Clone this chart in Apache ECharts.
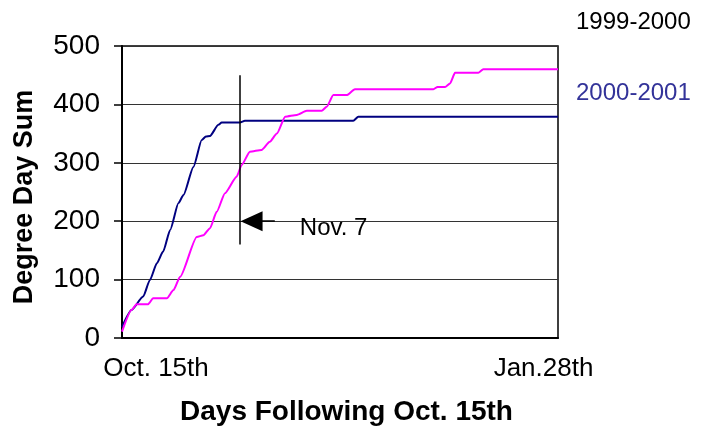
<!DOCTYPE html>
<html>
<head>
<meta charset="utf-8">
<script src="https://cdn.jsdelivr.net/npm/echarts@6/dist/echarts.min.js"></script>
<style>html,body{margin:0;padding:0;background:#fff;}#c{width:712px;height:426px;}</style>
</head>
<body>
<div id="c"></div>
<script>
// Days following Oct. 15th (0 = Oct. 15th, 105 = Jan. 28th)
const xTickLabels = ['Oct. 15th', 'Jan.28th'];
const yTicks = [0, 100, 200, 300, 400, 500];

// 2000-2001 series (navy)
const navyDays   = [0, 2.3, 5.1, 6.7, 8.4, 9.9, 11.6, 13.6, 14.8, 17.2, 19.2, 20.2, 21.2, 23.2, 24.0, 28.4, 29.6, 55.7, 56.9, 105];
const navyValues = [19, 48, 71, 99, 128, 148, 185, 231, 245, 293, 339, 345, 346, 365, 369, 369, 372, 372, 379, 379];

// 1999-2000 series (magenta)
const magentaDays   = [0, 2.3, 3.5, 6.3, 7.5, 10.8, 12.4, 14.0, 18.0, 19.6, 21.2, 22.8, 24.8, 27.6, 28.8, 30.8, 33.6, 35.6, 37.3, 39.3, 42.1, 44.5, 48.1, 49.3, 50.9, 54.1, 56.1, 75.0, 76.0, 77.8, 79.0, 80.2, 85.8, 87.0, 105];
const magentaValues = [11, 48, 58, 58, 68, 68, 82, 105, 173, 176, 188, 216, 248, 276, 296, 319, 322, 336, 350, 379, 382, 389, 389, 396, 416, 416, 426, 426, 430, 430, 436, 454, 454, 460, 460];

// Nov. 7 marker
const markerDay = 28.4;
const markerTop = 450;
const markerBottom = 160;
const arrowValue = 200;
const arrowTailDay = 36.8;
const arrowHeadDay = 31.2;
const markerLabel = 'Nov. 7';

const seriesNames = ['1999-2000', '2000-2001'];

const zip = (xs, ys) => xs.map((x, i) => [x, ys[i]]);
const FONT = "'Liberation Sans', Arial, sans-serif";

const chart = echarts.init(document.getElementById('c'), null, {renderer: 'canvas'});
chart.setOption({
  animation: false,
  backgroundColor: '#fff',
  textStyle: {fontFamily: FONT},
  grid: {left: 122, right: 154, top: 46, bottom: 88, show: true, borderColor: '#000', borderWidth: 1.5,
         outerBoundsMode: 'none', containLabel: false},
  legend: {
    orient: 'vertical',
    left: 566,
    top: 5,
    itemGap: 47,
    itemWidth: 0,
    itemHeight: 24,
    icon: 'none',
    selectedMode: false,
    textStyle: {fontSize: 24, fontFamily: FONT},
    data: [
      {name: seriesNames[0], textStyle: {color: '#000'}},
      {name: seriesNames[1], textStyle: {color: '#333399'}}
    ]
  },
  xAxis: {
    type: 'value',
    min: 0,
    max: 105,
    interval: 105,
    name: 'Days Following Oct. 15th',
    nameLocation: 'middle',
    nameGap: 60,
    nameTextStyle: {fontSize: 28, fontWeight: 'bold', color: '#000', fontFamily: FONT, padding: [0, 0, 0, 13]},
    axisLine: {show: true, lineStyle: {color: '#000', width: 2}},
    axisTick: {show: false},
    splitLine: {show: false},
    axisLabel: {
      margin: 18,
      color: '#000',
      fontSize: 26,
      fontFamily: FONT,
      formatter: v => v === 0 ? '{a|' + xTickLabels[0] + '}' : (v === 105 ? '{b|' + xTickLabels[1] + '}' : ''),
      rich: {
        a: {fontSize: 26, fontFamily: FONT, color: '#000', padding: [0, 0, 0, 68]},
        b: {fontSize: 26, fontFamily: FONT, color: '#000', padding: [0, 29, 8, 0]}
      }
    }
  },
  yAxis: {
    type: 'value',
    min: yTicks[0],
    max: yTicks[yTicks.length - 1],
    interval: 100,
    name: 'Degree Day Sum',
    nameLocation: 'middle',
    nameGap: 84,
    nameTextStyle: {fontSize: 27, fontWeight: 'bold', color: '#000', fontFamily: FONT, padding: [0, 10, 0, 0]},
    axisLine: {show: true, lineStyle: {color: '#000', width: 2}},
    axisTick: {show: true, inside: false, length: 8, lineStyle: {color: '#000', width: 1.5}},
    splitLine: {show: true, lineStyle: {color: '#333', width: 1}},
    axisLabel: {margin: 22, color: '#000', fontSize: 28, fontFamily: FONT}
  },
  series: [
    {
      name: seriesNames[0],
      type: 'line',
      data: zip(magentaDays, magentaValues),
      showSymbol: false,
      smooth: 0.2,
      smoothMonotone: 'x',
      lineStyle: {color: '#FF00FF', width: 2},
      itemStyle: {color: '#FF00FF'},
      z: 3
    },
    {
      name: seriesNames[1],
      type: 'line',
      data: zip(navyDays, navyValues),
      showSymbol: false,
      smooth: 0.2,
      smoothMonotone: 'x',
      lineStyle: {color: '#000080', width: 2},
      itemStyle: {color: '#000080'},
      z: 2,
      markLine: {
        silent: true,
        animation: false,
        data: [
          [
            {coord: [markerDay, markerTop], symbol: 'none'},
            {coord: [markerDay, markerBottom], symbol: 'none'}
          ],
          [
            {coord: [arrowTailDay, arrowValue], symbol: 'none'},
            {coord: [arrowHeadDay, arrowValue], symbol: 'triangle', symbolSize: [20, 22]}
          ]
        ],
        lineStyle: {color: '#000', width: 1.5, type: 'solid'},
        label: {show: false},
        emphasis: {disabled: true}
      },
      markPoint: {
        silent: true,
        animation: false,
        symbol: 'circle',
        symbolSize: 0,
        data: [{coord: [arrowTailDay, arrowValue], value: markerLabel}],
        label: {
          show: true,
          position: 'right',
          distance: 25,
          offset: [0, 7],
          formatter: markerLabel,
          fontSize: 24,
          fontFamily: FONT,
          color: '#000'
        },
        emphasis: {disabled: true}
      }
    }
  ]
});
</script>
</body>
</html>
